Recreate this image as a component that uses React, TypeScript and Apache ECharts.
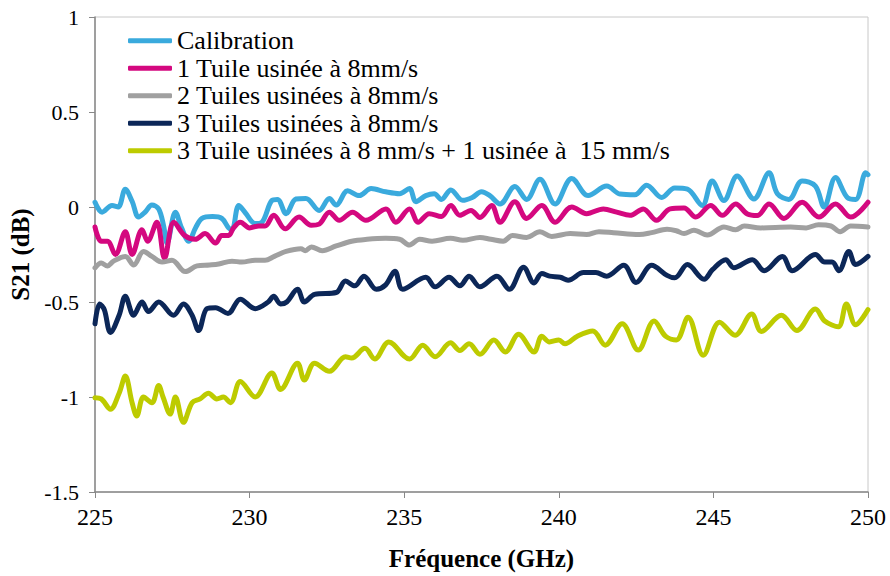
import React, { useEffect, useRef } from "react";
import * as echarts from "echarts";

const seriesNames = [
  "Calibration",
  "1 Tuile usinée à 8mm/s",
  "2 Tuiles usinées à 8mm/s",
  "3 Tuiles usinées à 8mm/s",
  "3 Tuile usinées à 8 mm/s + 1 usinée à  15 mm/s",
];

const xTicks = [225, 230, 235, 240, 245, 250];
const yTicks = [-1.5, -1, -0.5, 0, 0.5, 1];

const calibration: [number, number][] = [
  [225.0, 0.025], [225.23, -0.027], [225.55, 0.008], [225.75, 0.0], [225.98, 0.094], [226.2, 0.03],
  [226.41, -0.053], [226.62, -0.027], [226.84, 0.01], [227.06, -0.01], [227.22, -0.1], [227.33, -0.19],
  [227.6, -0.027], [227.8, -0.11], [228.03, -0.18], [228.25, -0.11], [228.46, -0.06], [228.8, -0.05],
  [229.1, -0.06], [229.32, -0.11], [229.43, -0.12], [229.65, 0.008], [229.86, -0.03], [230.18, -0.087],
  [230.4, -0.08], [230.72, 0.034], [230.9, 0.04], [231.18, -0.035], [231.5, 0.042], [231.82, 0.045],
  [232.25, -0.018], [232.58, 0.045], [232.8, 0.01], [233.17, 0.085], [233.55, 0.06], [233.93, 0.097],
  [234.4, 0.08], [234.85, 0.07], [235.17, 0.097], [235.38, 0.028], [235.7, 0.06], [235.97, 0.07],
  [236.2, 0.04], [236.51, 0.09], [236.89, 0.035], [237.2, 0.05], [237.5, 0.08], [237.77, 0.06],
  [238.1, 0.016], [238.58, 0.108], [238.96, 0.04], [239.39, 0.146], [239.88, 0.016], [240.42, 0.15],
  [240.95, 0.06], [241.55, 0.11], [241.98, 0.068], [242.46, 0.064], [242.84, 0.115], [243.33, 0.05],
  [243.75, 0.1], [244.16, 0.094], [244.64, 0.008], [244.96, 0.137], [245.34, 0.034], [245.77, 0.163],
  [246.31, 0.042], [246.8, 0.18], [247.07, 0.07], [247.44, 0.04], [247.87, 0.137], [248.3, 0.11],
  [248.58, 0.0], [248.95, 0.155], [249.33, 0.05], [249.6, 0.04], [249.93, 0.18], [250.0, 0.17],
];

const tuile1: [number, number][] = [
  [225.0, -0.105], [225.2, -0.18], [225.4, -0.18], [225.66, -0.25], [225.98, -0.13], [226.2, -0.25],
  [226.52, -0.12], [226.7, -0.18], [227.0, -0.08], [227.25, -0.27], [227.55, -0.08], [227.9, -0.15],
  [228.24, -0.17], [228.56, -0.14], [228.9, -0.19], [229.1, -0.15], [229.32, -0.15], [229.48, -0.11],
  [229.7, -0.08], [230.0, -0.11], [230.3, -0.1], [230.5, -0.1], [230.78, -0.044], [231.15, -0.115],
  [231.6, -0.053], [231.99, -0.096], [232.25, -0.09], [232.58, -0.027], [232.9, -0.07], [233.33, -0.027],
  [233.76, -0.07], [234.41, -0.01], [234.73, -0.08], [235.17, -0.01], [235.45, -0.08], [235.81, -0.035],
  [236.2, -0.05], [236.51, 0.008], [236.8, -0.044], [237.16, -0.018], [237.45, -0.055], [237.83, 0.008],
  [238.1, -0.08], [238.58, 0.028], [238.96, -0.06], [239.45, 0.008], [239.88, -0.08], [240.42, 0.0],
  [240.9, -0.035], [241.44, -0.01], [241.87, -0.027], [242.3, -0.044], [242.73, -0.01], [243.16, -0.07],
  [243.6, -0.01], [244.05, -0.005], [244.43, -0.053], [244.91, 0.008], [245.29, -0.044], [245.72, 0.016],
  [246.1, -0.037], [246.42, -0.045], [246.8, 0.016], [247.28, -0.06], [247.87, 0.025], [248.41, -0.053],
  [248.95, 0.016], [249.44, -0.053], [250.0, 0.025],
];

const tuiles2: [number, number][] = [
  [225.0, -0.32], [225.2, -0.295], [225.4, -0.31], [225.6, -0.285], [225.98, -0.26], [226.25, -0.305],
  [226.57, -0.234], [226.84, -0.26], [227.17, -0.29], [227.49, -0.28], [227.92, -0.34], [228.3, -0.31],
  [228.7, -0.305], [229.0, -0.3], [229.43, -0.285], [229.75, -0.29], [230.18, -0.28], [230.5, -0.28],
  [230.8, -0.26], [231.18, -0.234], [231.66, -0.22], [231.8, -0.23], [232.0, -0.21], [232.35, -0.23],
  [232.8, -0.205], [233.3, -0.18], [233.8, -0.17], [234.4, -0.165], [234.85, -0.17], [235.17, -0.2],
  [235.5, -0.17], [235.9, -0.18], [236.5, -0.165], [236.9, -0.175], [237.45, -0.16], [237.8, -0.17],
  [238.2, -0.18], [238.5, -0.15], [238.96, -0.16], [239.39, -0.13], [239.77, -0.155], [240.37, -0.14],
  [240.9, -0.145], [241.3, -0.13], [241.77, -0.135], [242.6, -0.145], [243.0, -0.135], [243.5, -0.117],
  [243.8, -0.125], [244.05, -0.14], [244.37, -0.122], [244.8, -0.148], [245.34, -0.105], [245.72, -0.12],
  [246.0, -0.1], [246.53, -0.11], [247.5, -0.105], [248.0, -0.11], [248.4, -0.093], [248.8, -0.1],
  [249.1, -0.13], [249.44, -0.1], [250.0, -0.105],
];

const tuiles3: [number, number][] = [
  [225.0, -0.615], [225.15, -0.51], [225.3, -0.54], [225.5, -0.66], [225.78, -0.57], [225.98, -0.47],
  [226.25, -0.57], [226.52, -0.5], [226.73, -0.55], [227.06, -0.5], [227.54, -0.57], [227.86, -0.51],
  [228.14, -0.57], [228.35, -0.65], [228.62, -0.535], [228.9, -0.53], [229.3, -0.56], [229.7, -0.485],
  [230.18, -0.535], [230.6, -0.5], [230.78, -0.47], [231.0, -0.51], [231.2, -0.5], [231.55, -0.433],
  [231.77, -0.5], [232.1, -0.46], [232.8, -0.45], [233.1, -0.39], [233.4, -0.415], [233.7, -0.364],
  [234.1, -0.433], [234.4, -0.41], [234.7, -0.338], [234.95, -0.433], [235.7, -0.37], [236.0, -0.42],
  [236.45, -0.37], [236.8, -0.415], [237.1, -0.364], [237.45, -0.42], [238.0, -0.364], [238.4, -0.433],
  [238.86, -0.317], [239.2, -0.4], [239.45, -0.35], [239.7, -0.364], [240.05, -0.37], [240.3, -0.385],
  [240.8, -0.345], [241.2, -0.345], [241.55, -0.364], [242.1, -0.307], [242.5, -0.397], [243.0, -0.307],
  [243.5, -0.36], [243.75, -0.373], [244.16, -0.303], [244.7, -0.38], [244.97, -0.33], [245.4, -0.277],
  [245.66, -0.32], [246.26, -0.277], [246.64, -0.335], [247.23, -0.26], [247.55, -0.335], [248.3, -0.25],
  [248.6, -0.29], [248.84, -0.29], [249.06, -0.335], [249.38, -0.234], [249.6, -0.303], [250.0, -0.26],
];

const tuiles3plus1: [number, number][] = [
  [225.0, -1.004], [225.2, -1.01], [225.5, -1.064], [225.78, -0.98], [225.98, -0.89], [226.2, -1.03],
  [226.35, -1.1], [226.57, -1.0], [226.84, -1.03], [227.06, -0.94], [227.2, -1.0], [227.43, -1.09],
  [227.6, -1.0], [227.86, -1.133], [228.14, -1.03], [228.4, -1.01], [228.67, -0.98], [228.94, -1.01],
  [229.15, -1.0], [229.38, -1.03], [229.7, -0.918], [230.18, -1.0], [230.72, -0.874], [231.0, -0.96],
  [231.55, -0.822], [231.77, -0.91], [232.1, -0.822], [232.58, -0.865], [233.1, -0.788], [233.3, -0.795],
  [233.73, -0.744], [234.05, -0.8], [234.5, -0.71], [235.17, -0.8], [235.6, -0.727], [236.0, -0.788],
  [236.5, -0.715], [236.8, -0.755], [237.1, -0.72], [237.45, -0.775], [237.9, -0.7], [238.27, -0.763],
  [238.7, -0.67], [239.2, -0.763], [239.45, -0.68], [239.7, -0.71], [240.0, -0.7], [240.2, -0.72],
  [240.6, -0.68], [241.1, -0.653], [241.5, -0.727], [242.05, -0.615], [242.57, -0.753], [243.08, -0.6],
  [243.45, -0.68], [243.8, -0.7], [244.18, -0.58], [244.67, -0.78], [245.2, -0.606], [245.7, -0.675],
  [246.24, -0.563], [246.55, -0.655], [247.2, -0.57], [247.7, -0.65], [248.3, -0.537], [248.6, -0.6],
  [249.04, -0.63], [249.3, -0.51], [249.6, -0.62], [250.0, -0.54],
];

const seriesData = [calibration, tuile1, tuiles2, tuiles3, tuiles3plus1];
const colors = ["#3AAADD", "#D4087F", "#A0A0A0", "#0C2758", "#BDCB00"];

const FONT = "Liberation Serif";

export default function App() {
  const ref = useRef<HTMLDivElement>(null);
  useEffect(() => {
    if (!ref.current) return;
    const chart = echarts.init(ref.current, null, { renderer: "svg" });
    chart.setOption({
      animation: false,
      backgroundColor: "#ffffff",
      textStyle: { fontFamily: FONT },
      grid: {
        left: 95,
        right: 22,
        top: 17,
        bottom: 77,
        show: true,
        borderColor: "#c8c8c8",
        borderWidth: 1,
      },
      legend: {
        orient: "vertical",
        left: 123,
        top: 22,
        itemWidth: 44,
        itemHeight: 5,
        itemGap: 0,
        icon: "roundRect",
        textStyle: { fontFamily: FONT, fontSize: 26, lineHeight: 27.5, color: "#000" },
        data: seriesNames,
      },
      xAxis: {
        type: "value",
        min: 225,
        max: 250,
        interval: 5,
        name: "Fréquence (GHz)",
        nameLocation: "middle",
        nameGap: 54,
        nameTextStyle: { fontFamily: FONT, fontSize: 25, fontWeight: "bold", color: "#000" },
        axisLine: { show: true, onZero: false, lineStyle: { color: "#888", width: 1.5 } },
        axisTick: { show: true, length: 6, lineStyle: { color: "#888" } },
        axisLabel: {
          fontFamily: FONT,
          fontSize: 24,
          color: "#000",
          margin: 13,
          formatter: (v: number) => (xTicks.includes(v) ? String(v) : ""),
        },
        splitLine: { show: false },
      },
      yAxis: {
        type: "value",
        min: -1.5,
        max: 1,
        interval: 0.5,
        name: "S21 (dB)",
        nameLocation: "middle",
        nameGap: 55,
        nameTextStyle: { fontFamily: FONT, fontSize: 25, fontWeight: "bold", color: "#000" },
        axisLine: { show: true, onZero: false, lineStyle: { color: "#888", width: 1.5 } },
        axisTick: { show: true, length: 6, lineStyle: { color: "#888" } },
        axisLabel: {
          fontFamily: FONT,
          fontSize: 22,
          color: "#000",
          margin: 16,
          formatter: (v: number) => (yTicks.includes(v) ? String(v) : ""),
        },
        splitLine: { show: false },
      },
      series: seriesNames.map((name, i) => ({
        name,
        type: "line",
        data: seriesData[i],
        smooth: 0.35,
        showSymbol: false,
        symbol: "none",
        color: colors[i],
        lineStyle: { color: colors[i], width: 5, cap: "round", join: "round" },
        itemStyle: { color: colors[i] },
      })),
    });
    return () => chart.dispose();
  }, []);
  return <div ref={ref} style={{ width: 890, height: 576, position: "absolute", left: 0, top: 0 }} />;
}
